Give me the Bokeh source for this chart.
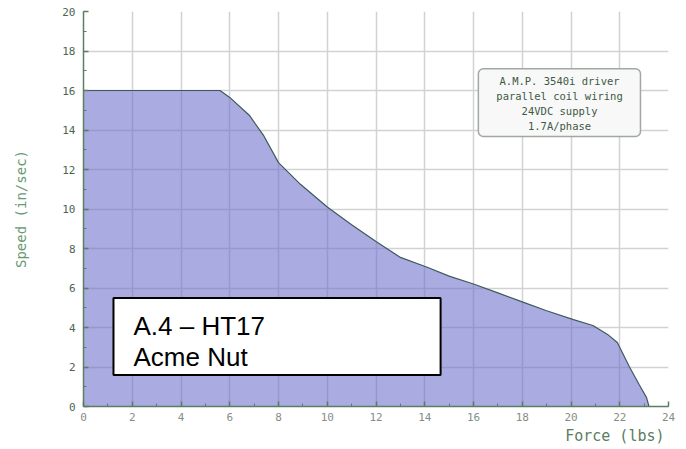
from bokeh.plotting import figure
from bokeh.models import (Range1d, SingleIntervalTicker, Title, ColumnDataSource)
from bokeh.core.properties import value
from bokeh.embed import file_html
from bokeh.resources import INLINE

# ---- data ----
force = [0, 5.6, 6.0, 6.8, 7.4, 8.0, 8.9, 10.0, 11.0, 12.0, 13.0, 14.1, 15.0,
         16.0, 17.0, 18.0, 19.0, 20.1, 20.9, 21.5, 21.9, 22.4, 22.8, 23.1, 23.2]
speed = [16, 16, 15.65, 14.75, 13.7, 12.35, 11.25, 10.1, 9.2, 8.35, 7.55, 7.05, 6.6,
         6.2, 5.75, 5.3, 4.85, 4.4, 4.1, 3.65, 3.24, 2.0, 1.1, 0.45, 0]
x_label = "Force (lbs)"
y_label = "Speed (in/sec)"
info_lines = ["A.M.P. 3540i driver", "parallel coil wiring", "24VDC supply", "1.7A/phase"]
title_lines = ["A.4 \u2013 HT17", "Acme Nut"]

MONO = "DejaVu Sans Mono"
AXIS_COL = "#5b7d62"

p = figure(width=686, height=449, output_backend="svg", toolbar_location=None,
           x_range=Range1d(0, 24), y_range=Range1d(0, 20),
           min_border_left=83, min_border_right=18, min_border_top=11, min_border_bottom=43)
p.outline_line_color = None
p.background_fill_color = "white"
p.border_fill_color = "white"

for ax in (p.xaxis[0], p.yaxis[0]):
    ax.ticker = SingleIntervalTicker(interval=2, num_minor_ticks=2)
    ax.axis_line_color = AXIS_COL
    ax.axis_line_width = 1.5
    ax.major_tick_line_color = AXIS_COL
    ax.minor_tick_line_color = AXIS_COL
    ax.major_tick_line_width = 1.5
    ax.major_tick_in = 5
    ax.major_tick_out = 0
    ax.minor_tick_in = 3
    ax.minor_tick_out = 0
    ax.major_label_text_font = MONO
    ax.major_label_text_font_size = "11px"

p.yaxis.major_label_text_color = "#4d6650"
p.xaxis.major_label_text_color = "#858e86"
p.yaxis.major_label_standoff = 8
p.xaxis.major_label_standoff = 6

p.yaxis.axis_label = y_label
p.yaxis.axis_label_text_font = MONO
p.yaxis.axis_label_text_font_size = "14px"
p.yaxis.axis_label_text_font_style = "normal"
p.yaxis.axis_label_text_color = "#6a9a72"
p.yaxis.axis_label_standoff = 30

for g in (p.xgrid[0], p.ygrid[0]):
    g.ticker = SingleIntervalTicker(interval=2)
    g.grid_line_color = "#d2d2d2"
    g.grid_line_width = 1.5

src = ColumnDataSource(dict(x=force, y=speed))
p.varea(x="x", y1=0, y2="y", source=src, fill_color="#6a6cc9", fill_alpha=0.57)
p.line(x="x", y="y", source=src, line_color="#3e5a5c", line_width=1.2)

# info box (rounded)
p.quad(left=16.2, right=22.85, bottom=13.67, top=17.1, fill_color="#f8f8f8",
       line_color="#a0a8a2", line_width=1.5, border_radius=5)
for i, t in enumerate(info_lines):
    p.text(x=[19.53], y=[16.5 - i * 0.76], text=[t], text_align="center",
           text_baseline="middle", text_font=value(MONO), text_font_size="10.5px",
           text_color="#3d5a45")

# black title box
p.quad(left=1.23, right=14.65, bottom=1.6, top=5.5, fill_color="white",
       line_color="black", line_width=2)
for i, t in enumerate(title_lines):
    p.text(x=[2.05], y=[4.08 - i * 1.58], text=[t], text_align="left",
           text_baseline="alphabetic", text_font=value("Liberation Sans"),
           text_font_size="26px", text_color="black")

xt = Title(text=x_label, align="right", text_font=MONO, text_font_size="15px",
           text_font_style="normal", text_color="#5b7d62", standoff=3, offset=4)
p.add_layout(xt, "below")

open("out.html", "w").write(file_html(p, INLINE))
